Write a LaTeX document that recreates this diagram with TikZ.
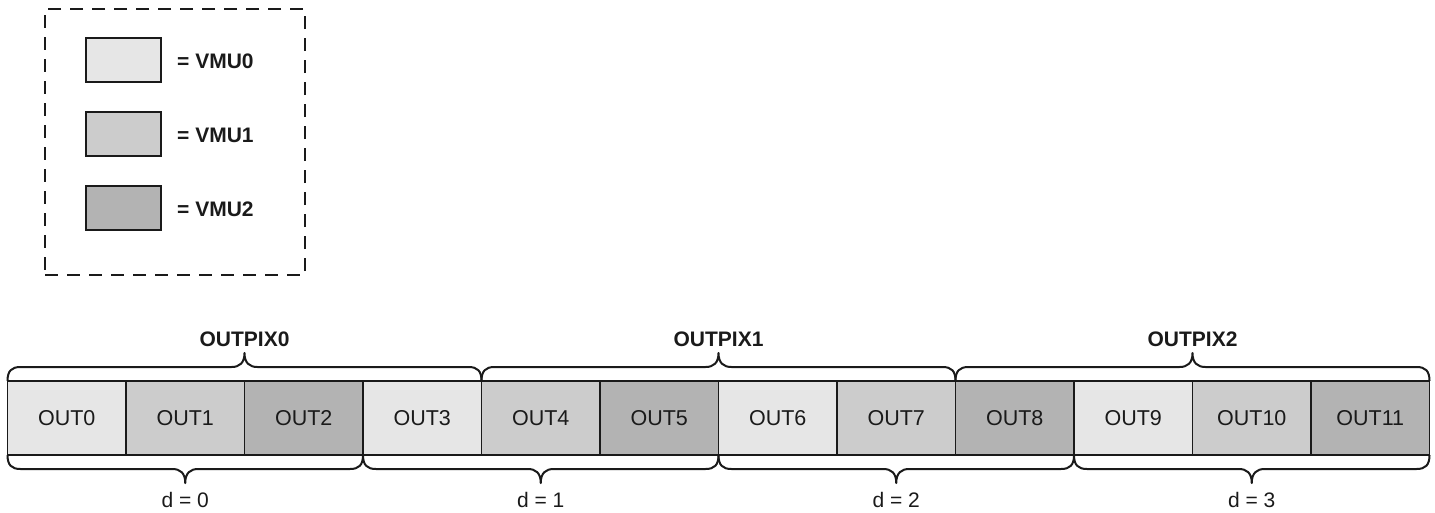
\documentclass[tikz,border=0pt]{standalone}
\usepackage{fontspec}
\setmainfont{Liberation Sans}
\usetikzlibrary{calc}
\definecolor{vmuA}{HTML}{E6E6E6}
\definecolor{vmuB}{HTML}{CCCCCC}
\definecolor{vmuC}{HTML}{B3B3B3}
\definecolor{linec}{HTML}{1A1A1A}
\newcommand{\bracepath}[3]{%
  \draw[brc] let \p1=(#1), \p2=(#2), \p3=($(#1)!.5!(#2)$) in
    (\x1,\y1) .. controls ({\x1},{\y1+(#3)*10pt}) and ({\x1+4pt},{\y1+(#3)*14pt}) .. ({\x1+13pt},{\y1+(#3)*14pt})
    -- ({\x3-13pt},{\y1+(#3)*14pt}) .. controls ({\x3-5pt},{\y1+(#3)*14pt}) and ({\x3},{\y1+(#3)*18pt}) .. ({\x3},{\y1+(#3)*28pt})
    .. controls ({\x3},{\y1+(#3)*18pt}) and ({\x3+5pt},{\y1+(#3)*14pt}) .. ({\x3+13pt},{\y1+(#3)*14pt})
    -- ({\x2-13pt},{\y1+(#3)*14pt}) .. controls ({\x2-4pt},{\y1+(#3)*14pt}) and ({\x2},{\y1+(#3)*10pt}) .. (\x2,\y2);
}
\begin{document}
\begin{tikzpicture}[x=1pt,y=-1pt,
  cell/.style={draw=linec, line width=1.5pt, minimum width=118.5pt, minimum height=74pt,
    inner sep=0pt, outer sep=0pt, font=\fontsize{21.5}{25}\selectfont, text=linec},
  legbox/.style={draw=linec, line width=1.5pt, minimum width=75pt, minimum height=44pt, inner sep=0pt},
  leglabel/.style={anchor=west, inner sep=0pt, font=\fontsize{21}{25}\selectfont\bfseries, text=linec},
  frame/.style={draw=linec, line width=2.2pt, dash pattern=on 13pt off 9pt, minimum width=260pt, minimum height=266pt, inner sep=0pt},
  toplabel/.style={inner sep=0pt, font=\fontsize{21}{25}\selectfont\bfseries, text=linec},
  botlabel/.style={inner sep=0pt, font=\fontsize{21}{25}\selectfont, text=linec},
  brc/.style={draw=linec, line width=2pt, line join=round}]
\useasboundingbox (0,0) rectangle (1435,512);

% legend
\node[frame] (legend) at (175,142) {};
\node[legbox, fill=vmuA] (lb0) at (123.5,60) {};
\node[legbox, fill=vmuB] (lb1) at (123.5,134) {};
\node[legbox, fill=vmuC] (lb2) at (123.5,208) {};
\node[leglabel] (ll0) at (177,61) {= VMU0};
\node[leglabel] (ll1) at (177,135) {= VMU1};
\node[leglabel] (ll2) at (177,209) {= VMU2};

% cells
\foreach \i/\c in {0/vmuA,1/vmuB,2/vmuC,3/vmuA,4/vmuB,5/vmuC,6/vmuA,7/vmuB,8/vmuC,9/vmuA,10/vmuB,11/vmuC}{
  \node[cell, fill=\c] (c\i) at ({7.5+118.5*(\i+0.5)},418) {OUT\i};
}

% upper braces
\bracepath{c0.north west}{c3.north east}{1}
\bracepath{c4.north west}{c7.north east}{1}
\bracepath{c8.north west}{c11.north east}{1}
\node[toplabel] (p0) at (244.5,339.5) {OUTPIX0};
\node[toplabel] (p1) at (718.5,339.5) {OUTPIX1};
\node[toplabel] (p2) at (1192.5,339.5) {OUTPIX2};

% lower braces
\bracepath{c0.south west}{c2.south east}{-1}
\bracepath{c3.south west}{c5.south east}{-1}
\bracepath{c6.south west}{c8.south east}{-1}
\bracepath{c9.south west}{c11.south east}{-1}
\node[botlabel] (d0) at (185.25,499.5) {d = 0};
\node[botlabel] (d1) at (540.75,499.5) {d = 1};
\node[botlabel] (d2) at (896.25,499.5) {d = 2};
\node[botlabel] (d3) at (1251.75,499.5) {d = 3};
\end{tikzpicture}
\end{document}
